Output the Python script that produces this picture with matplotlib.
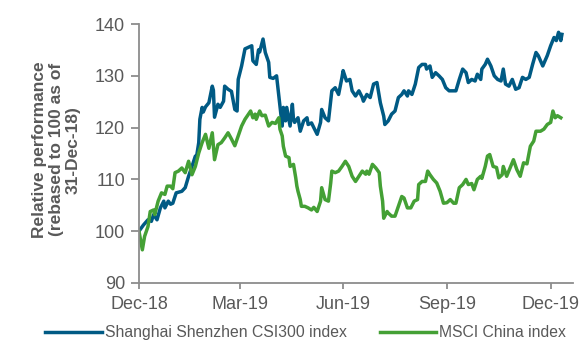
import numpy as np
import pandas as pd
import matplotlib
matplotlib.use("Agg")
import matplotlib.pyplot as plt

plt.rcParams['font.family'] = ['Liberation Sans', 'DejaVu Sans']

# index levels rebased to 100 on 31-Dec-18, keyed by days since that date
csi_days = [0, 4, 8, 11, 13, 16, 19, 22, 23, 26, 28, 30, 33, 38, 41, 44, 47, 50, 51, 53,
            54, 56, 57, 59, 62, 65, 66, 67, 70, 72, 75, 76, 79, 82, 85, 87, 88, 91, 94, 97,
            100, 101, 104, 106, 107, 110, 112, 115, 116, 119, 122, 125, 127, 128, 130, 131,
            133, 134, 136, 137, 138, 141, 143, 146, 149, 150, 153, 155, 158, 161, 162, 165,
            168, 171, 174, 177, 180, 181, 184, 187, 189, 192, 195, 198, 199, 202, 205, 208,
            211, 214, 217, 218, 221, 224, 227, 230, 233, 235, 238, 239, 242, 245, 248, 251,
            254, 255, 258, 260, 263, 266, 269, 272, 275, 281, 284, 287, 290, 292, 295, 298,
            300, 303, 304, 307, 309, 312, 315, 318, 321, 323, 325, 328, 331, 334, 337, 340,
            343, 346, 349, 352, 354, 358, 362, 365, 368, 370, 372, 374, 375]
csi300 = [100.0, 101.2, 102.2, 101.9, 103.2, 102.2, 104.5, 105.8, 104.5, 105.8, 105.2, 105.4,
          107.4, 107.7, 108.4, 110.6, 112.5, 114.5, 114.3, 117.1, 121.6, 123.9, 123.0, 124.0,
          124.8, 128.0, 127.2, 122.0, 124.5, 123.9, 125.1, 128.0, 127.4, 127.0, 123.5, 123.2,
          129.3, 131.9, 135.2, 135.5, 135.8, 132.9, 132.2, 135.0, 134.6, 137.1, 134.5, 132.6,
          129.7, 129.5, 130.0, 124.2, 120.3, 123.9, 121.3, 123.9, 121.5, 120.3, 124.5, 121.6,
          121.0, 121.9, 119.3, 121.3, 121.9, 120.6, 120.9, 120.0, 118.7, 121.0, 123.5, 121.9,
          121.3, 127.1, 127.7, 126.4, 129.7, 131.0, 129.0, 129.3, 127.1, 126.1, 127.1, 125.8,
          125.1, 126.4, 125.8, 128.4, 128.7, 124.8, 122.2, 120.6, 121.3, 122.6, 123.2, 125.8,
          126.4, 127.1, 126.1, 127.1, 126.4, 128.4, 131.6, 132.2, 132.2, 131.3, 131.9, 129.7,
          130.6, 130.0, 129.3, 127.7, 127.1, 127.1, 129.3, 131.3, 130.6, 128.7, 129.3, 129.0,
          130.3, 129.3, 131.3, 132.2, 133.2, 131.9, 130.0, 129.3, 129.0, 131.3, 128.4, 128.0,
          129.3, 127.4, 127.7, 129.7, 129.3, 129.7, 132.2, 134.5, 133.9, 131.9, 133.9, 135.8,
          137.4, 136.8, 138.4, 136.8, 138.0]

msci_days = [0, 3, 5, 8, 10, 13, 14, 17, 20, 23, 25, 28, 30, 32, 35, 38, 41, 44, 47, 50,
             53, 56, 59, 62, 65, 67, 70, 73, 76, 79, 82, 85, 88, 91, 94, 99, 101, 103, 104,
             107, 109, 112, 115, 118, 121, 124, 125, 127, 128, 130, 133, 134, 137, 139, 140,
             141, 143, 144, 147, 150, 153, 155, 158, 161, 162, 165, 168, 170, 171, 174, 177,
             180, 183, 186, 189, 192, 195, 198, 201, 202, 204, 207, 210, 213, 214, 216, 217,
             220, 221, 224, 227, 230, 233, 235, 238, 241, 244, 247, 248, 251, 254, 256, 258,
             261, 264, 267, 270, 273, 276, 279, 281, 284, 287, 290, 292, 295, 297, 300, 303,
             304, 307, 309, 311, 314, 317, 319, 322, 323, 326, 329, 332, 335, 338, 341, 344,
             347, 350, 352, 356, 359, 362, 365, 367, 369, 371, 374]
msci_china = [100.0, 96.4, 99.0, 100.9, 103.8, 104.1, 103.2, 105.8, 107.4, 107.1, 108.7, 108.7,
              108.2, 111.3, 111.6, 112.2, 111.3, 113.5, 110.9, 112.5, 115.1, 117.1, 118.7, 116.0,
              119.0, 113.8, 116.7, 117.1, 118.0, 119.0, 117.8, 116.5, 118.4, 120.3, 121.6, 123.2,
              121.9, 122.6, 121.6, 123.2, 122.3, 122.4, 120.3, 121.0, 120.8, 121.9, 119.7, 118.4,
              116.4, 114.5, 114.2, 112.5, 112.9, 110.3, 108.7, 107.7, 106.1, 104.8, 104.8, 104.5,
              104.1, 104.6, 103.8, 105.8, 108.4, 106.1, 105.8, 109.3, 111.6, 111.3, 111.6, 112.5,
              113.5, 112.5, 110.6, 109.6, 110.6, 111.6, 111.0, 111.6, 111.0, 112.9, 112.2, 111.3,
              108.7, 105.8, 102.5, 103.8, 103.5, 102.9, 102.9, 104.8, 106.7, 106.4, 104.5, 104.5,
              105.8, 106.1, 109.0, 109.6, 109.6, 111.6, 110.9, 110.0, 109.3, 107.7, 105.4, 105.5,
              106.1, 105.4, 105.4, 108.4, 109.0, 110.0, 109.0, 109.2, 108.0, 110.0, 110.6, 110.2,
              112.5, 114.5, 114.8, 112.5, 112.3, 110.3, 110.9, 112.5, 110.6, 112.2, 113.8, 111.9,
              110.6, 113.2, 113.0, 116.4, 117.4, 119.3, 119.3, 119.7, 120.6, 121.0, 123.2, 121.9,
              122.3, 121.9]

base = pd.Timestamp("2018-12-31")
csi_dates = base + pd.to_timedelta(csi_days, unit="D")
msci_dates = base + pd.to_timedelta(msci_days, unit="D")

tick_dates = pd.to_datetime(["2018-12-31", "2019-03-31", "2019-06-30", "2019-09-30", "2019-12-31"])
tick_labels = ["Dec-18", "Mar-19", "Jun-19", "Sep-19", "Dec-19"]

blue = "#005A84"
green = "#44A035"
grey = "#8C8C8C"
text_grey = "#595959"

fig = plt.figure(figsize=(5.79, 3.43), dpi=100)
ax = fig.add_axes([0.240, 0.175, 0.750, 0.755])

ax.plot(csi_dates, csi300, color=blue, lw=2.5, label="Shanghai Shenzhen CSI300 index",
        solid_joinstyle="round")
ax.plot(msci_dates, msci_china, color=green, lw=2.5, label="MSCI China index",
        solid_joinstyle="round")

ax.set_ylim(90, 140)
ax.set_yticks(np.arange(90, 141, 10))
ax.set_xlim(base, pd.Timestamp("2020-01-20"))
ax.set_xticks(tick_dates)
ax.set_xticklabels(tick_labels)

for side in ["top", "right"]:
    ax.spines[side].set_visible(False)
for side in ["left", "bottom"]:
    ax.spines[side].set_color(grey)
    ax.spines[side].set_linewidth(1.3)
ax.tick_params(axis="both", colors=grey, labelcolor=text_grey, labelsize=13,
               width=1.3, direction="out")
ax.tick_params(axis="x", length=4.5, pad=5)
ax.tick_params(axis="y", length=6, pad=4)

fig.text(0.098, 0.563, "Relative performance\n(rebased to 100 as of\n31-Dec-18)",
         rotation=90, ha="center", va="center", multialignment="center",
         fontsize=12.5, fontweight="bold", color=text_grey, linespacing=1.15)

fig.legend(loc="center", bbox_to_anchor=(0.528, 0.03), ncol=2, frameon=False,
           fontsize=11.3, labelcolor=text_grey, handlelength=3.6, handletextpad=0.2,
           columnspacing=2.1, borderpad=0.2)

fig.savefig("out.png", dpi=100)
